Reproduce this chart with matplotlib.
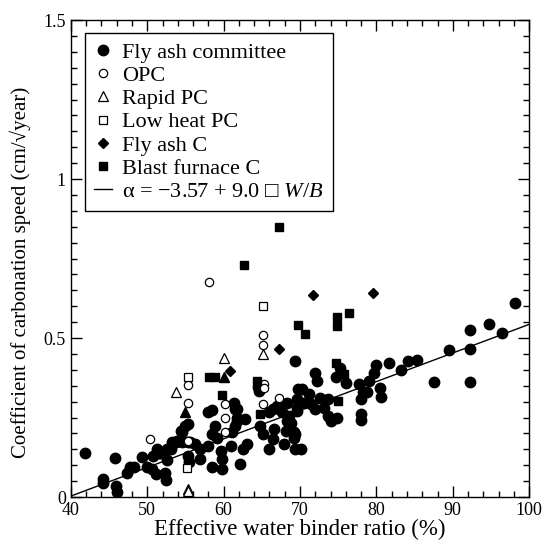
import numpy as np
import matplotlib
matplotlib.use("Agg")
import matplotlib.pyplot as plt
from matplotlib.ticker import MultipleLocator

plt.rcParams['font.family'] = ['Liberation Serif', 'Noto Sans CJK JP', 'DejaVu Sans']
plt.rcParams['mathtext.fontset'] = 'custom'
plt.rcParams['mathtext.it'] = 'Liberation Serif:italic'
plt.rcParams['mathtext.rm'] = 'Liberation Serif'

# DATA
committee_x = [41.9, 44.2, 44.2, 45.8, 45.9, 46.0, 47.3, 47.8, 48.3, 49.3, 50.0, 50.6, 51.2,
               50.8, 51.3, 51.6, 52.6, 52.3, 52.5, 53.1, 53.7, 54.4, 54.6, 53.2, 53.9, 54.5,
               55.0, 55.4, 52.6, 51.7, 55.4, 55.6, 56.3, 56.9, 55.4, 55.5, 56.9, 58.0, 58.0,
               58.5, 58.9, 58.5, 59.1, 59.6, 59.8, 58.5, 59.8, 61.1, 60.9, 61.5, 61.8, 61.3,
               61.8, 62.8, 63.1, 62.6, 62.2, 61.5, 61.8, 64.6, 64.5, 64.8, 65.2, 65.9, 66.4,
               66.6, 65.9, 66.4, 67.0, 67.7, 68.3, 67.9, 68.5, 68.3, 68.1, 69.2, 69.6, 69.4,
               68.8, 67.4, 69.8,
               69.4, 69.6, 69.6, 69.4, 69.2, 70.1, 70.2, 70.5, 71.2, 71.4, 72.0, 72.2, 72.0,
               72.6, 73.1, 73.6, 74.0, 73.7, 74.8, 75.2, 74.7, 76.0, 77.7, 78.0, 78.2, 78.0,
               78.0, 79.0, 78.8, 79.7, 80.0, 80.5, 80.6, 81.7, 83.2, 84.1, 85.3, 87.6, 89.5,
               92.3, 92.3, 92.3, 94.7, 96.4, 98.1]
committee_y = [0.138, 0.056, 0.044, 0.122, 0.035, 0.015, 0.075, 0.093, 0.096, 0.127, 0.096, 0.088, 0.072,
               0.130, 0.150, 0.138, 0.117, 0.077, 0.054, 0.150, 0.172, 0.208, 0.172, 0.172, 0.177, 0.203,
               0.224, 0.229, 0.151, 0.140, 0.172, 0.172, 0.166, 0.151, 0.130, 0.109, 0.119, 0.161, 0.266,
               0.274, 0.224, 0.198, 0.187, 0.145, 0.119, 0.093, 0.088, 0.203, 0.161, 0.224, 0.240, 0.297,
               0.276, 0.245, 0.166, 0.151, 0.104, 0.276, 0.250, 0.334, 0.345, 0.224, 0.198, 0.151, 0.182,
               0.213, 0.266, 0.276, 0.287, 0.266, 0.297, 0.166, 0.255, 0.240, 0.208, 0.203, 0.281, 0.151,
               0.234, 0.287, 0.339,
               0.428, 0.308, 0.271, 0.198, 0.187, 0.151, 0.339, 0.297, 0.323, 0.292, 0.391, 0.365, 0.276,
               0.310, 0.281, 0.255, 0.240, 0.308, 0.247, 0.407, 0.379, 0.358, 0.355, 0.308, 0.329, 0.260,
               0.243, 0.365, 0.329, 0.391, 0.414, 0.344, 0.316, 0.423, 0.400, 0.428, 0.430, 0.362, 0.462,
               0.524, 0.464, 0.362, 0.543, 0.517, 0.609]

opc_x = [58.1, 65.1, 65.1, 55.3, 55.3, 60.2, 60.2, 60.2, 65.3, 65.3, 65.1, 67.2, 50.3, 55.3]
opc_y = [0.677, 0.511, 0.478, 0.351, 0.297, 0.294, 0.250, 0.203, 0.357, 0.344, 0.294, 0.310, 0.182, 0.177]

rapid_x = [60.0, 65.1, 53.7, 55.3, 55.3]
rapid_y = [0.438, 0.449, 0.330, 0.025, 0.020]

lowheat_x = [65.1, 55.3, 55.2]
lowheat_y = [0.600, 0.377, 0.091]

flyashc_x = [67.2, 60.8, 71.7, 79.5]
flyashc_y = [0.466, 0.396, 0.635, 0.642]

blast_x = [62.7, 67.2, 69.8, 58.1, 58.9, 64.4, 59.8, 64.8, 70.6, 74.8, 74.8, 76.4, 74.7, 75.0, 75.8, 55.3]
blast_y = [0.729, 0.850, 0.540, 0.376, 0.376, 0.365, 0.321, 0.262, 0.514, 0.567, 0.538, 0.580, 0.420, 0.302, 0.386, 0.125]

filled_tri_x = [60.0, 55.0]
filled_tri_y = [0.376, 0.266]

fit_a, fit_b = -3.57, 9.0
line_x = np.array([40, 100])
line_y = (fit_a + fit_b * line_x / 100) / 10

fig = plt.figure(figsize=(5.45, 5.48), dpi=100)
ax = fig.add_axes([0.130, 0.0930, 0.841, 0.8705])

ax.plot(committee_x, committee_y, 'o', color='black', ms=7.5, ls='none', label='Fly ash committee')
ax.plot(opc_x, opc_y, 'o', mfc='white', mec='black', mew=0.9, ms=6, ls='none', label='OPC')
ax.plot(rapid_x, rapid_y, '^', mfc='white', mec='black', mew=0.9, ms=6.5, ls='none', label='Rapid PC')
ax.plot(lowheat_x, lowheat_y, 's', mfc='white', mec='black', mew=0.9, ms=5.5, ls='none', label='Low heat PC')
ax.plot(flyashc_x, flyashc_y, 'D', color='black', ms=5.5, ls='none', label='Fly ash C')
ax.plot(blast_x, blast_y, 's', color='black', ms=5.5, ls='none', label='Blast furnace C')
ax.plot(filled_tri_x, filled_tri_y, '^', color='black', ms=6.5, ls='none')
ax.plot(line_x, line_y, '-', color='black', lw=1,
        label='α = −3.57 + 9.0 □ $\\mathit{W/B}$')

ax.set_xlim(40, 100)
ax.set_ylim(0, 1.5)
ax.xaxis.set_major_locator(MultipleLocator(10))
ax.xaxis.set_minor_locator(MultipleLocator(2))
ax.yaxis.set_minor_locator(MultipleLocator(0.05))
ax.set_yticks([0, 0.5, 1, 1.5])
ax.set_yticklabels(['0', '0.5', '1', '1.5'])
ax.tick_params(which='both', direction='in', top=True, right=True, labelsize=13, width=1)
ax.tick_params(which='major', length=8)
ax.tick_params(which='minor', length=4)
for s in ax.spines.values():
    s.set_linewidth(1)

ax.set_xlabel('Effective water binder ratio (%)', fontsize=16.5, labelpad=0)
ax.set_ylabel('Coefficient of carbonation speed (cm/√year)', fontsize=15, labelpad=2)
ax.yaxis.set_label_coords(-0.088, 0.47)

leg = ax.legend(loc='upper left', bbox_to_anchor=(0.031, 0.973), fontsize=16, frameon=True,
                fancybox=False, edgecolor='black', framealpha=1, borderaxespad=0,
                labelspacing=0.12, handlelength=0.8, handletextpad=0.45, borderpad=0.42)
leg.get_frame().set_linewidth(1)

fig.savefig('out.png', dpi=100)
